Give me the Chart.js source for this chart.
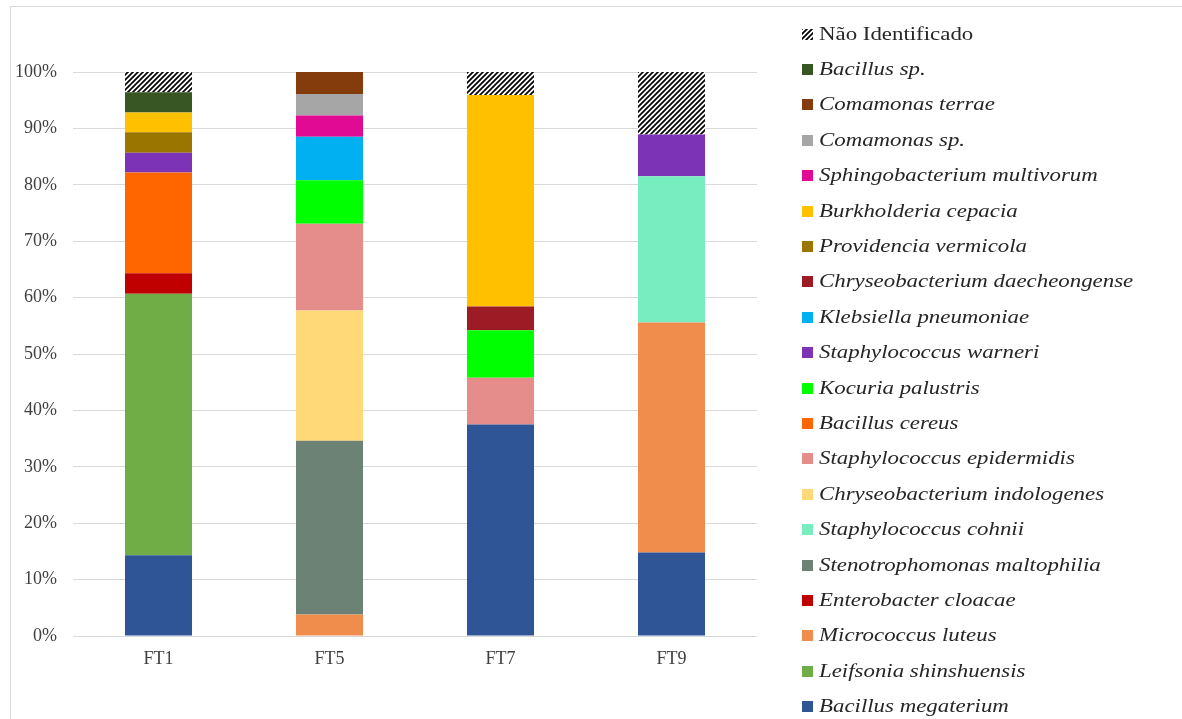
<!DOCTYPE html>
<html>
<head>
<meta charset="utf-8">
<script src="https://cdn.jsdelivr.net/npm/chart.js@4/dist/chart.umd.min.js"></script>
<style>
  html, body { margin: 0; padding: 0; background: #fff; }
  body { width: 1182px; height: 719px; position: relative; overflow: hidden; font-family: "Liberation Serif", "Times New Roman", serif; }
  #frame { position: absolute; left: 10px; top: 6px; width: 1300px; height: 900px; border-left: 1px solid #d9d9d9; border-top: 1px solid #d9d9d9; }
  #wrap { position: absolute; left: 0; top: 0; width: 1182px; height: 719px; }
  #legend { position: absolute; left: 802px; top: 0; width: 380px; height: 719px; }
  .item { position: absolute; left: 0; height: 24px; display: flex; align-items: center; white-space: nowrap; }
  .box { width: 11px; height: 11px; flex: none; margin-right: 6px; }
  .lbl { font-size: 18px; color: #262626; transform: scaleX(1.27); transform-origin: left center; display: inline-block; }
  .lbl.it { font-style: italic; }
</style>
</head>
<body>
<div id="frame"></div>
<div id="wrap"><canvas id="chart" width="1182" height="719"></canvas></div>
<div id="legend"></div>
<script>
// Sampling points
const categories = ['FT1', 'FT5', 'FT7', 'FT9'];

// Relative frequency (%) of each isolate per sample, bottom of the stack first
const bacillusMegaterium        = [14.3, 0, 37.5, 14.8];
const leifsoniaShinshuensis     = [46.4, 0, 0, 0];
const micrococcusLuteus         = [0, 3.8, 0, 40.8];
const enterobacterCloacae       = [3.6, 0, 0, 0];
const stenotrophomonas          = [0, 30.8, 0, 0];
const staphCohnii               = [0, 0, 0, 25.9];
const chryseoIndologenes        = [0, 23.1, 0, 0];
const staphEpidermidis          = [0, 15.4, 8.3, 0];
const bacillusCereus            = [17.9, 0, 0, 0];
const kocuriaPalustris          = [0, 7.7, 8.4, 0];
const staphWarneri              = [3.5, 0, 0, 7.4];
const klebsiellaPneumoniae      = [0, 7.7, 0, 0];
const chryseoDaecheongense      = [0, 0, 4.2, 0];
const providenciaVermicola      = [3.6, 0, 0, 0];
const burkholderiaCepacia       = [3.5, 0, 37.5, 0];
const sphingobacterium          = [0, 3.8, 0, 0];
const comamonasSp               = [0, 3.8, 0, 0];
const comamonasTerrae           = [0, 3.9, 0, 0];
const bacillusSp                = [3.6, 0, 0, 0];
const naoIdentificado           = [3.6, 0, 4.1, 11.1];

const yTicks = [0, 10, 20, 30, 40, 50, 60, 70, 80, 90, 100];

// Diagonal hatch used for unidentified isolates
function makeHatch() {
  const c = document.createElement('canvas');
  c.width = 5; c.height = 5;
  const g = c.getContext('2d');
  g.fillStyle = '#ffffff';
  g.fillRect(0, 0, 5, 5);
  g.strokeStyle = '#000000';
  g.lineWidth = 1.7;
  g.beginPath();
  g.moveTo(-1, 6); g.lineTo(6, -1);
  g.moveTo(-3.5, 3.5); g.lineTo(3.5, -3.5);
  g.moveTo(1.5, 8.5); g.lineTo(8.5, 1.5);
  g.stroke();
  return c;
}
const hatchTile = makeHatch();
const hatch = document.getElementById('chart').getContext('2d').createPattern(hatchTile, 'repeat');

const series = [
  { name: 'Bacillus megaterium', data: bacillusMegaterium, color: '#2f5597', italic: true },
  { name: 'Leifsonia shinshuensis', data: leifsoniaShinshuensis, color: '#70ad47', italic: true },
  { name: 'Micrococcus luteus', data: micrococcusLuteus, color: '#f08c4c', italic: true },
  { name: 'Enterobacter cloacae', data: enterobacterCloacae, color: '#c00000', italic: true },
  { name: 'Stenotrophomonas maltophilia', data: stenotrophomonas, color: '#6b8275', italic: true },
  { name: 'Staphylococcus cohnii', data: staphCohnii, color: '#78eec0', italic: true },
  { name: 'Chryseobacterium indologenes', data: chryseoIndologenes, color: '#ffd978', italic: true },
  { name: 'Staphylococcus epidermidis', data: staphEpidermidis, color: '#e58d8a', italic: true },
  { name: 'Bacillus cereus', data: bacillusCereus, color: '#ff6600', italic: true },
  { name: 'Kocuria palustris', data: kocuriaPalustris, color: '#00ff00', italic: true },
  { name: 'Staphylococcus warneri', data: staphWarneri, color: '#7d33b5', italic: true },
  { name: 'Klebsiella pneumoniae', data: klebsiellaPneumoniae, color: '#00b0f0', italic: true },
  { name: 'Chryseobacterium daecheongense', data: chryseoDaecheongense, color: '#9c1b24', italic: true },
  { name: 'Providencia vermicola', data: providenciaVermicola, color: '#9a7600', italic: true },
  { name: 'Burkholderia cepacia', data: burkholderiaCepacia, color: '#ffc000', italic: true },
  { name: 'Sphingobacterium multivorum', data: sphingobacterium, color: '#e00a94', italic: true },
  { name: 'Comamonas sp.', data: comamonasSp, color: '#a6a6a6', italic: true },
  { name: 'Comamonas terrae', data: comamonasTerrae, color: '#843c0c', italic: true },
  { name: 'Bacillus sp.', data: bacillusSp, color: '#375623', italic: true },
  { name: 'Não Identificado', data: naoIdentificado, color: hatch, italic: false, hatched: true }
];

const datasets = series.map(s => ({
  label: s.name,
  data: s.data,
  backgroundColor: s.color,
  borderWidth: 0,
  barPercentage: 0.392,
  categoryPercentage: 1.0,
  italic: s.italic,
  hatched: !!s.hatched
}));

// HTML legend, listed top of the stack first
const htmlLegend = {
  id: 'htmlLegend',
  afterUpdate(chart) {
    const box = document.getElementById('legend');
    box.innerHTML = '';
    const list = chart.data.datasets.slice().reverse();
    list.forEach((ds, i) => {
      const cy = 34 + 35.4 * i;
      const item = document.createElement('div');
      item.className = 'item';
      item.style.top = (cy - 12) + 'px';
      const sw = document.createElement('span');
      sw.className = 'box';
      if (ds.hatched) {
        sw.style.backgroundImage = 'url(' + hatchTile.toDataURL() + ')';
      } else {
        sw.style.background = ds.backgroundColor;
      }
      const tx = document.createElement('span');
      tx.className = 'lbl' + (ds.italic ? ' it' : '');
      tx.textContent = ds.label;
      item.appendChild(sw);
      item.appendChild(tx);
      box.appendChild(item);
    });
  }
};

new Chart(document.getElementById('chart'), {
  type: 'bar',
  data: { labels: categories, datasets },
  plugins: [htmlLegend],
  options: {
    responsive: false,
    animation: false,
    layout: { padding: { left: 10, right: 425, top: 72, bottom: 43 } },
    plugins: {
      legend: { display: false },
      tooltip: { enabled: false }
    },
    scales: {
      x: {
        stacked: true,
        grid: { display: false, drawTicks: false },
        border: { display: false },
        ticks: {
          padding: 12,
          color: '#404040',
          font: { family: 'Liberation Serif', size: 18 }
        },
        afterFit(s) { s.height = 40; }
      },
      y: {
        stacked: true,
        min: 0,
        max: 100,
        afterBuildTicks(s) { s.ticks = yTicks.map(v => ({ value: v })); },
        grid: { color: '#d9d9d9', lineWidth: 1, drawTicks: false },
        border: { display: false },
        ticks: {
          padding: 16,
          color: '#404040',
          font: { family: 'Liberation Serif', size: 18 },
          callback: v => v + '%'
        },
        afterFit(s) { s.width = 63; }
      }
    }
  }
});
</script>
</body>
</html>
